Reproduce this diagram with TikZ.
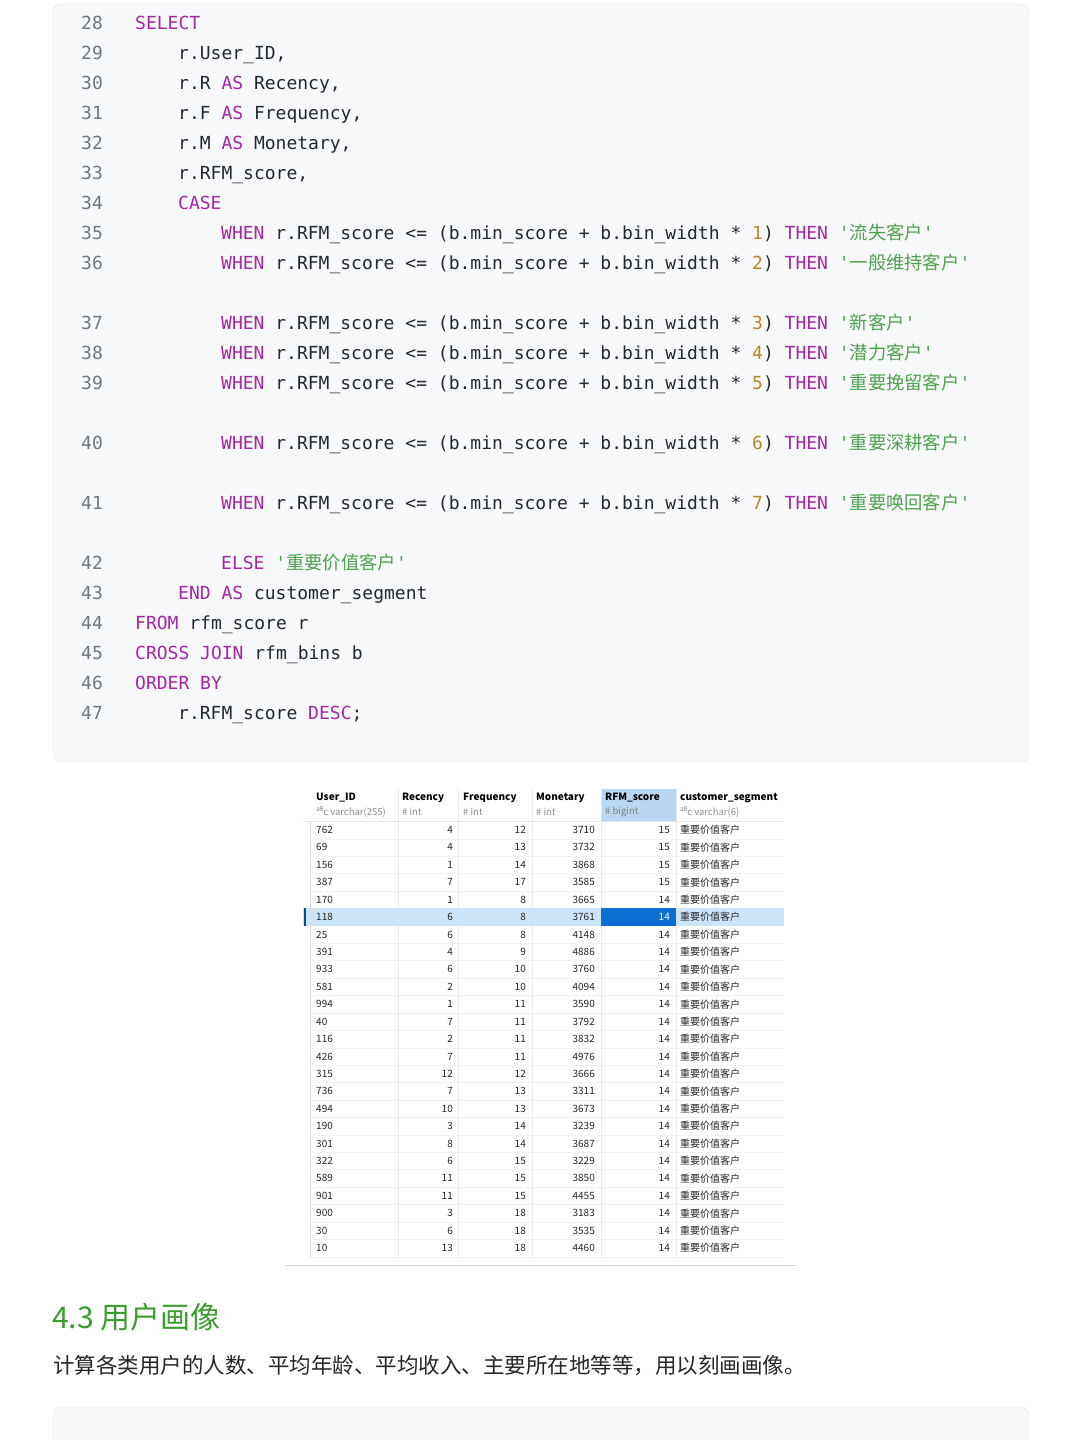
\documentclass[tikz,border=0pt]{standalone}
\usepackage{fontspec}
\setmainfont{Liberation Sans}
\setmonofont{DejaVu Sans Mono}
\newfontfamily\cjk{Noto Sans CJK SC}
\newfontfamily\tfont{Noto Sans CJK SC}
\definecolor{kwc}{HTML}{A626A4}
\definecolor{numc}{HTML}{B7862A}
\definecolor{strc}{HTML}{50A14F}
\definecolor{lnc}{HTML}{6E7781}
\definecolor{codec}{HTML}{24292F}
\definecolor{boxbg}{HTML}{F6F8FA}
\definecolor{boxbd}{HTML}{E1E4E8}
\definecolor{selrow}{HTML}{CCE4F7}
\definecolor{selcell}{HTML}{0A6FD1}
\definecolor{hdrsel}{HTML}{B9D7F2}
\definecolor{grn}{HTML}{3A9E2F}
\newcommand{\kw}[1]{\textcolor{kwc}{#1}}
\newcommand{\nm}[1]{\textcolor{numc}{#1}}
\newcommand{\st}[1]{\textcolor{strc}{'{\cjk\fontsize{18.3}{18}\selectfont #1}'}}
\begin{document}
\begin{tikzpicture}[x=1pt,y=-1pt,
  cl/.style={anchor=base west,inner sep=0,font=\ttfamily\fontsize{18}{18}\selectfont,text=codec},
  ln/.style={anchor=base,inner sep=0,font=\ttfamily\fontsize{18}{18}\selectfont,text=lnc},
  td/.style={inner sep=0,font=\tfont\fontsize{10}{10}\selectfont,text=black!85},
  th/.style={inner sep=0,anchor=west,font=\tfont\bfseries\fontsize{10}{10}\selectfont,text=black},
  ts/.style={inner sep=0,anchor=west,font=\tfont\fontsize{9.5}{10}\selectfont,text=black!45}]
\useasboundingbox (0,0) rectangle (1080,1440);
\fill[white] (0,0) rectangle (1080,1440);
% code box
\draw[boxbd,fill=boxbg,rounded corners=8] (53,4) rectangle (1029,762);
\foreach \n/\y in {28/23,29/53,30/83,31/113,32/143,33/173,34/203,35/233,36/263,37/323,38/353,39/383,40/443,41/503,42/563,43/593,44/623,45/653,46/683,47/713}
  \node[ln] (ln\n) at (92,\y+6) {\n};
\node[cl] (c28) at (135,29) {\kw{SELECT}};
\node[cl] (c29) at (178,59) {r.User\_ID,};
\node[cl] (c30) at (178,89) {r.R \kw{AS} Recency,};
\node[cl] (c31) at (178,119) {r.F \kw{AS} Frequency,};
\node[cl] (c32) at (178,149) {r.M \kw{AS} Monetary,};
\node[cl] (c33) at (178,179) {r.RFM\_score,};
\node[cl] (c34) at (178,209) {\kw{CASE}};
\node[cl] (c35) at (221,239) {\kw{WHEN} r.RFM\_score <= (b.min\_score + b.bin\_width * \nm{1}) \kw{THEN} \st{流失客户}};
\node[cl] (c36) at (221,269) {\kw{WHEN} r.RFM\_score <= (b.min\_score + b.bin\_width * \nm{2}) \kw{THEN} \st{一般维持客户}};
\node[cl] (c37) at (221,329) {\kw{WHEN} r.RFM\_score <= (b.min\_score + b.bin\_width * \nm{3}) \kw{THEN} \st{新客户}};
\node[cl] (c38) at (221,359) {\kw{WHEN} r.RFM\_score <= (b.min\_score + b.bin\_width * \nm{4}) \kw{THEN} \st{潜力客户}};
\node[cl] (c39) at (221,389) {\kw{WHEN} r.RFM\_score <= (b.min\_score + b.bin\_width * \nm{5}) \kw{THEN} \st{重要挽留客户}};
\node[cl] (c40) at (221,449) {\kw{WHEN} r.RFM\_score <= (b.min\_score + b.bin\_width * \nm{6}) \kw{THEN} \st{重要深耕客户}};
\node[cl] (c41) at (221,509) {\kw{WHEN} r.RFM\_score <= (b.min\_score + b.bin\_width * \nm{7}) \kw{THEN} \st{重要唤回客户}};
\node[cl] (c42) at (221,569) {\kw{ELSE} \st{重要价值客户}};
\node[cl] (c43) at (178,599) {\kw{END} \kw{AS} customer\_segment};
\node[cl] (c44) at (135,629) {\kw{FROM} rfm\_score r};
\node[cl] (c45) at (135,659) {\kw{CROSS} \kw{JOIN} rfm\_bins b};
\node[cl] (c46) at (135,689) {\kw{ORDER} \kw{BY}};
\node[cl] (c47) at (178,719) {r.RFM\_score \kw{DESC};};
% table
\fill[hdrsel] (601,789) rectangle (676,821);
\foreach \x in {398,458,532,601,676} \draw[black!8] (\x,789) -- (\x,1257);
\draw[black!10] (303,821) -- (784,821);
\draw[black!15] (310,821) -- (310,1257);
\node[th] (h1) at (316,798) {User\_ID};
\node[th] (h2) at (402,798) {Recency};
\node[th] (h3) at (463,798) {Frequency};
\node[th] (h4) at (536,798) {Monetary};
\node[th] (h5) at (605,798) {RFM\_score};
\node[th] (h6) at (680,798) {customer\_segment};
\node[ts] (s1) at (316,812) {\textsuperscript{a}\kern-1pt\textsuperscript{B}\kern-1pt c varchar(255)};
\node[ts] (s2) at (402,812) {\# int};
\node[ts] (s3) at (463,812) {\# int};
\node[ts] (s4) at (536,812) {\# int};
\node[ts,text=black!50] (s5) at (605,812) {\# bigint};
\node[ts] (s6) at (680,812) {\textsuperscript{a}\kern-1pt\textsuperscript{B}\kern-1pt c varchar(6)};
\foreach [count=\i] \u/\r/\f/\m/\s in {762/4/12/3710/15,69/4/13/3732/15,156/1/14/3868/15,387/7/17/3585/15,170/1/8/3665/14,118/6/8/3761/14,25/6/8/4148/14,391/4/9/4886/14,933/6/10/3760/14,581/2/10/4094/14,994/1/11/3590/14,40/7/11/3792/14,116/2/11/3832/14,426/7/11/4976/14,315/12/12/3666/14,736/7/13/3311/14,494/10/13/3673/14,190/3/14/3239/14,301/8/14/3687/14,322/6/15/3229/14,589/11/15/3850/14,901/11/15/4455/14,900/3/18/3183/14,30/6/18/3535/14,10/13/18/4460/14}{
  \pgfmathsetmacro{\yy}{830+(\i-1)*17.42}
  \ifnum\i=6
    \fill[selrow] (303,\yy-8.7) rectangle (784,\yy+8.7);
    \fill[selcell] (601,\yy-8.7) rectangle (676,\yy+8.7);
    \draw[selcell!70!black,line width=1.2] (305,\yy-8.7) -- (305,\yy+8.7);
  \else
    \draw[black!5] (310,\yy+8.7) -- (784,\yy+8.7);
  \fi
  \node[td,anchor=west] (u\i) at (316,\yy) {\u};
  \node[td,anchor=east] (r\i) at (453,\yy) {\r};
  \node[td,anchor=east] (f\i) at (526,\yy) {\f};
  \node[td,anchor=east] (m\i) at (595,\yy) {\m};
  \ifnum\i=6
    \node[td,anchor=east,text=white] (sc\i) at (670,\yy) {\s};
  \else
    \node[td,anchor=east] (sc\i) at (670,\yy) {\s};
  \fi
  \node[td,anchor=west] (g\i) at (680,\yy) {重要价值客户};
}
\draw[black!15] (285,1265) -- (797,1265);
% heading and text
\node[anchor=west,inner sep=0,text=grn,font=\cjk\fontsize{30}{30}\selectfont] (hd) at (52,1317) {4.3 用户画像};
\node[anchor=west,inner sep=0,text=black!85,font=\cjk\fontsize{21.5}{22}\selectfont] (para) at (53,1366) {计算各类用户的人数、平均年龄、平均收入、主要所在地等等，用以刻画画像。};
\begin{scope}
\clip (0,0) rectangle (1080,1440);
\draw[boxbd,fill=boxbg,rounded corners=8] (53,1407) rectangle (1029,1480);
\end{scope}
\end{tikzpicture}
\end{document}
